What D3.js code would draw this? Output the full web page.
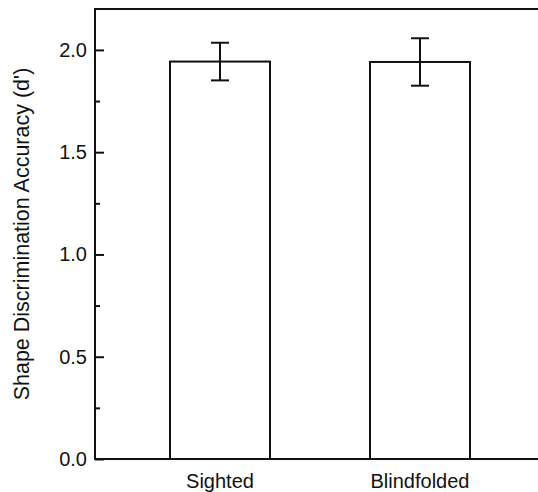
<!DOCTYPE html>
<html>
<head>
<meta charset="utf-8">
<script src="https://cdn.jsdelivr.net/npm/d3@7"></script>
<style>
  body { margin: 0; background: #fff; }
  svg text { font-family: "Liberation Sans", Arial, sans-serif; fill: #111; }
</style>
</head>
<body>
<svg id="chart" width="538" height="492"></svg>
<script>
const categories = ["Sighted", "Blindfolded"];
const means = [1.943, 1.941];
const errors = [0.092, 0.116];
const majorTicks = [0, 0.5, 1.0, 1.5, 2.0];
const minorTicks = [0.25, 0.75, 1.25, 1.75];

const svg = d3.select("#chart");
const mLeft = 95, mRight = 545, mTop = 9, mBottom = 459;
const ink = "#111";

const x = d3.scaleBand()
  .domain(categories)
  .range([mLeft, mRight])
  .paddingInner(0.5)
  .paddingOuter(0.375);

const y = d3.scaleLinear().domain([0, 2.2]).range([mBottom, mTop]);

// bars
svg.append("g").selectAll("rect")
  .data(categories)
  .join("rect")
  .attr("x", d => x(d))
  .attr("y", (d, i) => y(means[i]))
  .attr("width", x.bandwidth())
  .attr("height", (d, i) => y(0) - y(means[i]))
  .attr("fill", "#fff")
  .attr("stroke", ink)
  .attr("stroke-width", 2);

// error bars
const eb = svg.append("g").attr("stroke", ink).attr("stroke-width", 2);
categories.forEach((c, i) => {
  const cx = x(c) + x.bandwidth() / 2;
  eb.append("line").attr("x1", cx).attr("x2", cx)
    .attr("y1", y(means[i] - errors[i])).attr("y2", y(means[i] + errors[i]));
  [means[i] - errors[i], means[i] + errors[i]].forEach(v => {
    eb.append("line").attr("x1", cx - 9).attr("x2", cx + 9)
      .attr("y1", y(v)).attr("y2", y(v));
  });
});

// y axis (ticks inward)
const yAxis = svg.append("g")
  .attr("transform", `translate(${mLeft},0)`)
  .call(d3.axisRight(y).tickValues(majorTicks).tickSize(9)
    .tickFormat(d3.format(".1f")));
yAxis.select(".domain").remove();
yAxis.selectAll("line").attr("stroke", ink).attr("stroke-width", 2);
yAxis.selectAll("text")
  .attr("x", -8).attr("text-anchor", "end")
  .style("font-size", "20px");

const yMinor = svg.append("g")
  .attr("transform", `translate(${mLeft},0)`)
  .call(d3.axisRight(y).tickValues(minorTicks).tickSize(5).tickFormat(""));
yMinor.select(".domain").remove();
yMinor.selectAll("line").attr("stroke", ink).attr("stroke-width", 2);

// x axis labels
const xAxis = svg.append("g")
  .attr("transform", `translate(0,${mBottom})`)
  .call(d3.axisBottom(x).tickSize(0).tickPadding(15));
xAxis.select(".domain").remove();
xAxis.selectAll("text").style("font-size", "20px");

// frame
svg.append("path")
  .attr("d", `M${mRight},${mTop}H${mLeft}V${mBottom}H${mRight}`)
  .attr("fill", "none")
  .attr("stroke", ink)
  .attr("stroke-width", 2);

// y title
svg.append("text")
  .attr("transform", `translate(29,${(mTop + mBottom) / 2}) rotate(-90)`)
  .attr("text-anchor", "middle")
  .style("font-size", "21.5px")
  .text("Shape Discrimination Accuracy (d')");
</script>
</body>
</html>
